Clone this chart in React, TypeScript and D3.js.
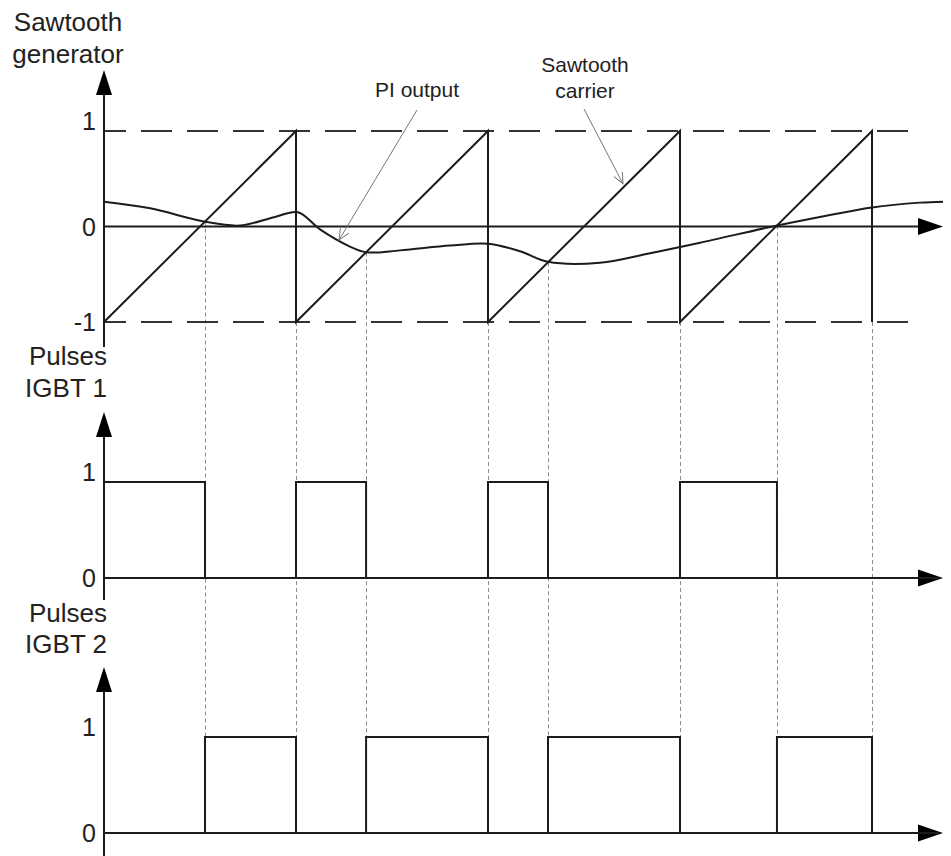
import React from "react";
import * as d3 from "d3";

// ---- data ----
const resetTimes = [1, 2, 3, 4]; // sawtooth reset instants (in carrier periods)
const sawPoints: [number, number][] = [
  [0, -1], [1, 1], [1, -1], [2, 1], [2, -1], [3, 1], [3, -1], [4, 1], [4, -1],
];
const piT = [0, 0.24, 0.526, 0.708, 0.89, 1.01, 1.125, 1.281, 1.365, 1.542, 1.802, 2.0, 2.167, 2.3125, 2.583, 2.844, 3.104, 3.505, 3.729, 4.0, 4.25, 4.37];
const piV = [0.26, 0.19, 0.05, 0.01, 0.1, 0.15, -0.03, -0.21, -0.27, -0.25, -0.2, -0.18, -0.26, -0.37, -0.38, -0.28, -0.17, 0.01, 0.1, 0.2, 0.25, 0.26];
const crossTimes = [0.526, 1.365, 2.3125, 3.505];
const igbt1Steps: [number, number][] = [
  [0, 1], [0.526, 0], [1, 1], [1.365, 0], [2, 1], [2.3125, 0], [3, 1], [3.505, 0], [4.35, 0],
];
const igbt2Steps: [number, number][] = [
  [0, 0], [0.526, 1], [1, 0], [1.365, 1], [2, 0], [2.3125, 1], [3, 0], [3.505, 1], [4, 0], [4.35, 0],
];
const sawTicks = [1, 0, -1];
const pulseTicks = [1, 0];

const W = 951;
const H = 856;
const INK = "#1c1c1c";
const FONT = "'Liberation Sans', Arial, sans-serif";

const x = d3.scaleLinear().domain([0, 4]).range([104, 872]);
const ySaw = d3.scaleLinear().domain([-1, 1]).range([322, 131]);
const yP1 = d3.scaleLinear().domain([0, 1]).range([578, 482]);
const yP2 = d3.scaleLinear().domain([0, 1]).range([833, 737]);

const sawVal = (t: number) => -1 + 2 * (t - Math.floor(t));

function YAxis({ tip, bottom }: { tip: number; bottom: number }) {
  const x0 = x(0);
  return (
    <g>
      <line x1={x0} x2={x0} y1={tip + 20} y2={bottom} stroke={INK} strokeWidth={2} />
      <path d={`M${x0},${tip} L${x0 + 8},${tip + 25} L${x0 - 8},${tip + 25} Z`} fill="#000" />
    </g>
  );
}

function XAxis({ y }: { y: number }) {
  const tip = 943;
  return (
    <g>
      <line x1={x(0)} x2={tip - 20} y1={y} y2={y} stroke={INK} strokeWidth={2} />
      <path d={`M${tip},${y} L${tip - 25},${y - 8.5} L${tip - 25},${y + 8.5} Z`} fill="#000" />
    </g>
  );
}

function Ticks({ ticks, scale }: { ticks: number[]; scale: d3.ScaleLinear<number, number> }) {
  return (
    <g fontFamily={FONT} fontSize={25} fill="#222" textAnchor="end">
      {ticks.map((v) => (
        <text key={v} x={96} y={scale(v) + (v === 1 ? -1 : 9)}>
          {v}
        </text>
      ))}
    </g>
  );
}

export default function App() {
  const sawLine = d3.line<[number, number]>().x((d) => x(d[0])).y((d) => ySaw(d[1]));
  const piLine = d3
    .line<number>()
    .x((_, i) => x(piT[i]))
    .y((v) => ySaw(v))
    .curve(d3.curveCatmullRom.alpha(0.5));
  const step1 = d3.line<[number, number]>().x((d) => x(d[0])).y((d) => yP1(d[1])).curve(d3.curveStepAfter);
  const step2 = d3.line<[number, number]>().x((d) => x(d[0])).y((d) => yP2(d[1])).curve(d3.curveStepAfter);

  const dottedBottom = yP2(1);
  const verticals = [
    ...crossTimes.map((t) => ({ t, top: ySaw(sawVal(t)) })),
    ...resetTimes.map((t) => ({ t, top: ySaw(-1) })),
  ];

  // annotation anchors on the data
  const piTipT = 1.224;
  const piTipY = ySaw(-0.1);
  const sawTipT = 2.703;

  return (
    <svg
      width={W}
      height={H}
      style={{ position: "absolute", left: 0, top: 0, background: "#fff" }}
      fontFamily={FONT}
    >
      <defs>
        <marker id="openArrow" viewBox="0 0 12 10" refX="11" refY="5" markerWidth="12" markerHeight="10" markerUnits="userSpaceOnUse" orient="auto">
          <path d="M0,0 L11,5 L0,10" fill="none" stroke="#777" strokeWidth={1} />
        </marker>
      </defs>

      {/* dotted guide verticals */}
      {verticals.map((v, i) => {
        const xx = Math.round(x(v.t)) + 0.5;
        return (
          <line
            key={i}
            x1={xx}
            x2={xx}
            y1={v.top}
            y2={dottedBottom}
            stroke="#8c8c8c"
            strokeWidth={1}
            strokeDasharray="4 3"
          />
        );
      })}

      {/* dashed limits */}
      {[1, -1].map((v) => (
        <line
          key={v}
          x1={x(0)}
          x2={908}
          y1={ySaw(v)}
          y2={ySaw(v)}
          stroke="#333"
          strokeWidth={2}
          strokeDasharray="31 15"
          strokeDashoffset={9}
        />
      ))}

      {/* axes */}
      <YAxis tip={70} bottom={347} />
      <XAxis y={ySaw(0)} />
      <YAxis tip={412} bottom={600} />
      <XAxis y={yP1(0)} />
      <YAxis tip={667} bottom={856} />
      <XAxis y={yP2(0)} />

      {/* sawtooth + PI */}
      <path d={sawLine(sawPoints) || ""} fill="none" stroke={INK} strokeWidth={2} />
      <path d={piLine(piV) || ""} fill="none" stroke={INK} strokeWidth={2} />

      {/* pulses */}
      <path d={step1(igbt1Steps) || ""} fill="none" stroke={INK} strokeWidth={2} />
      <path d={step2(igbt2Steps) || ""} fill="none" stroke={INK} strokeWidth={2} />

      {/* tick labels */}
      <Ticks ticks={sawTicks} scale={ySaw} />
      <Ticks ticks={pulseTicks} scale={yP1} />
      <Ticks ticks={pulseTicks} scale={yP2} />

      {/* axis titles */}
      <g fontSize={26} fill="#222">
        <text x={68} y={31} textAnchor="middle">Sawtooth</text>
        <text x={68} y={63} textAnchor="middle">generator</text>
        <text x={107} y={365} textAnchor="end">Pulses</text>
        <text x={107} y={397} textAnchor="end">IGBT 1</text>
        <text x={107} y={622} textAnchor="end">Pulses</text>
        <text x={107} y={653} textAnchor="end">IGBT 2</text>
      </g>

      {/* annotations */}
      <g fontSize={21} fill="#222" textAnchor="middle">
        <text x={417} y={97}>PI output</text>
        <text x={585} y={72}>Sawtooth</text>
        <text x={585} y={98}>carrier</text>
      </g>
      <line x1={417} y1={110} x2={x(piTipT)} y2={piTipY + 4} stroke="#777" strokeWidth={1} markerEnd="url(#openArrow)" />
      <line x1={584} y1={109} x2={x(sawTipT)} y2={ySaw(sawVal(sawTipT)) - 4} stroke="#777" strokeWidth={1} markerEnd="url(#openArrow)" />
    </svg>
  );
}
